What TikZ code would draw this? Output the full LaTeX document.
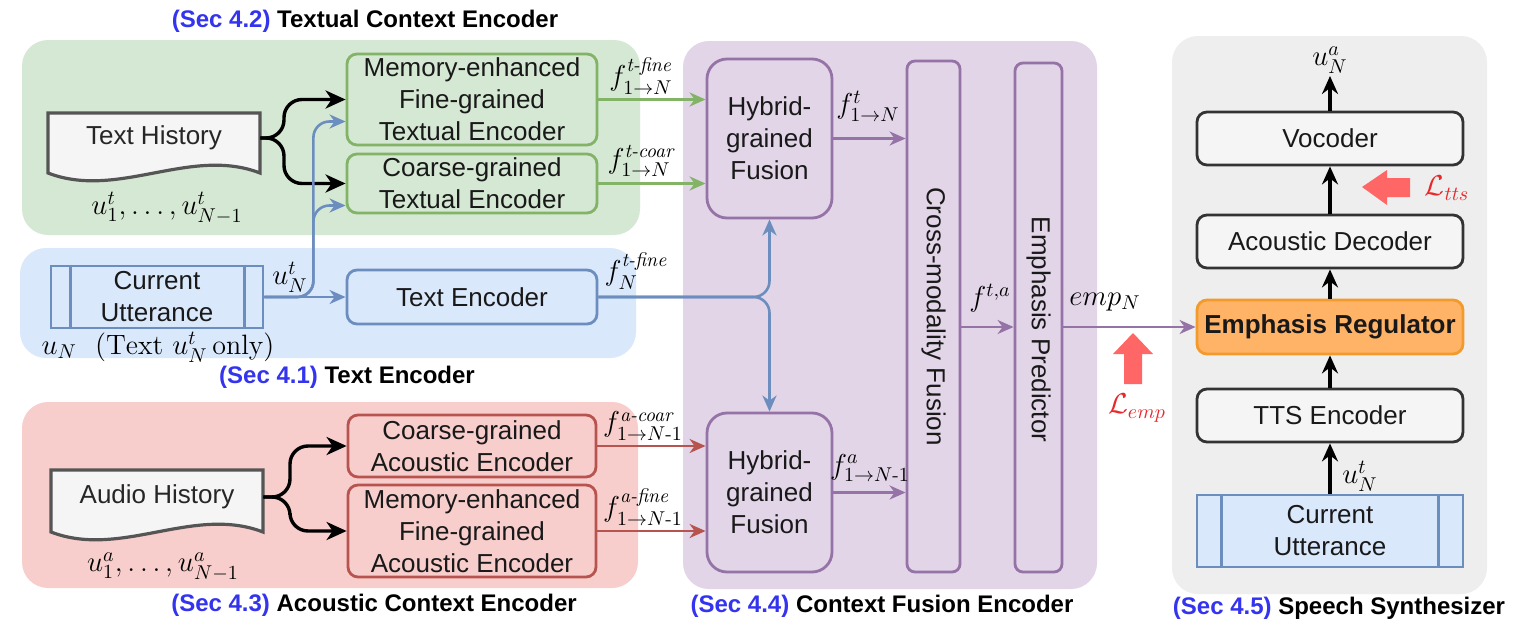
\documentclass[tikz,border=0pt]{standalone}
\usepackage{amsmath}
\usepackage{fontspec}
\newfontfamily\lsans{Liberation Sans}
\usetikzlibrary{arrows.meta}
\definecolor{gfill}{HTML}{D5E8D4}
\definecolor{gline}{HTML}{82B366}
\definecolor{bfill}{HTML}{DAE8FC}
\definecolor{bline}{HTML}{6C8EBF}
\definecolor{rfill}{HTML}{F8CECC}
\definecolor{rline}{HTML}{B85450}
\definecolor{pfill}{HTML}{E1D5E7}
\definecolor{pline}{HTML}{9673A6}
\definecolor{kfill}{HTML}{F5F5F5}
\definecolor{kline}{HTML}{333333}
\definecolor{greybg}{HTML}{EEEEEE}
\definecolor{ofill}{HTML}{FFB366}
\definecolor{oline}{HTML}{F29B2C}
\definecolor{lossarrow}{HTML}{FF6666}
\definecolor{lossred}{HTML}{E8282B}
\definecolor{secblue}{HTML}{3333F0}
\definecolor{docline}{HTML}{555555}
\begin{document}
\begin{tikzpicture}[x=0.5pt,y=-0.5pt,
 corners/.style args={#1,#2,#3,#4}{minimum width={(#3-#1)*0.5pt}, minimum height={(#4-#2)*0.5pt}, at={({(#1+#3)/2},{(#2+#4)/2})}},
 region/.style={inner sep=0pt, draw=none, rounded corners=13pt},
 bx/.style={inner sep=0pt, line width=1.4pt, rounded corners=5pt, align=center, text=black!90, font=\lsans\fontsize{13}{16}\selectfont},
 gbx/.style={bx, draw=gline, fill=gfill},
 bbx/.style={bx, draw=bline, fill=bfill},
 rbx/.style={bx, draw=rline, fill=rfill},
 pbx/.style={bx, draw=pline, fill=pfill},
 kbx/.style={bx, draw=kline, fill=kfill},
 obx/.style={bx, draw=oline, fill=ofill, font=\lsans\bfseries\fontsize{13}{16}\selectfont},
 docbx/.style={inner sep=0pt, align=center, text=black!85, font=\lsans\fontsize{13}{16}\selectfont},
 tip/.style={-{Stealth[length=8pt,width=7pt,inset=2.5pt]}},
 garr/.style={tip, line width=1.3pt, draw=gline},
 barr/.style={tip, line width=1.3pt, draw=bline, rounded corners=8pt},
 rarr/.style={tip, line width=1.3pt, draw=rline},
 parr/.style={tip, line width=1.3pt, draw=pline},
 karr/.style={line width=1.7pt, draw=black, rounded corners=9pt, -{Stealth[length=10pt,width=9pt,inset=3pt]}},
 varr/.style={line width=1.6pt, draw=black, -{Stealth[length=9pt,width=8pt,inset=3pt]}},
 mlab/.style={inner sep=0pt, font=\fontsize{14}{16}\selectfont},
 sec/.style={inner sep=0pt, font=\lsans\bfseries\fontsize{12}{14}\selectfont},
]
\useasboundingbox (0,0) rectangle (1517,632);
\fill[white] (0,0) rectangle (1517,632);

% regions
\node[region, fill=gfill, corners={22,40,640,235}] (greg) {};
\node[region, fill=bfill, corners={20,248,636,358}] (breg) {};
\node[region, fill=rfill, corners={22,402,638,588}] (rreg) {};
\node[region, fill=pfill, corners={683,41,1097,589}] (preg) {};
\node[region, fill=greybg, corners={1172,36,1487,594}] (kreg) {};

% section labels
\node[sec] (s42) at (365,21) {\textcolor{secblue}{(Sec 4.2)} Textual Context Encoder};
\node[sec] (s41) at (347,377) {\textcolor{secblue}{(Sec 4.1)} Text Encoder};
\node[sec] (s43) at (374,605) {\textcolor{secblue}{(Sec 4.3)} Acoustic Context Encoder};
\node[sec] (s44) at (882,606) {\textcolor{secblue}{(Sec 4.4)} Context Fusion Encoder};
\node[sec] (s45) at (1339,608) {\textcolor{secblue}{(Sec 4.5)} Speech Synthesizer};

% text history document
\draw[line width=1.6pt, draw=docline, fill=kfill] (48,113) -- (260,113) -- (260,173) .. controls (190,146) and (118,200) .. (48,173) -- cycle;
\node[docbx, corners={48,113,260,163}] (th) {Text History};
% audio history document
\draw[line width=1.6pt, draw=docline, fill=kfill] (51,470) -- (263,470) -- (263,532) .. controls (193,505) and (121,559) .. (51,532) -- cycle;
\node[docbx, corners={51,470,263,524}] (ah) {Audio History};

% textual encoders
\node[gbx, corners={347,54,597,145}] (mem) {Memory-enhanced\\Fine-grained\\Textual Encoder};
\node[gbx, corners={347,154,597,213}] (coa) {Coarse-grained\\Textual Encoder};
% current utterance + text encoder
\node[bbx, rounded corners=0pt, corners={51,266,263,328}] (cu) {Current\\Utterance};
\draw[line width=1.4pt, draw=bline] ([xshift=10.5pt]cu.north west) -- ([xshift=10.5pt]cu.south west);
\draw[line width=1.4pt, draw=bline] ([xshift=-10pt]cu.north east) -- ([xshift=-10pt]cu.south east);
\node[bbx, corners={347,270,597,324}] (tenc) {Text Encoder};
% acoustic encoders
\node[rbx, corners={348,415,596,477}] (cac) {Coarse-grained\\Acoustic Encoder};
\node[rbx, corners={348,485,596,577}] (mac) {Memory-enhanced\\Fine-grained\\Acoustic Encoder};

% fusion
\node[pbx, rounded corners=10pt, corners={707,59,832,218}] (hyb1) {Hybrid-\\grained\\Fusion};
\node[pbx, rounded corners=10pt, corners={707,413,832,572}] (hyb2) {Hybrid-\\grained\\Fusion};
\node[pbx, rounded corners=4pt, corners={907,61,960,572}] (cross) {\rotatebox{-90}{Cross-modality Fusion}};
\node[pbx, rounded corners=4pt, corners={1015,63,1062,572}] (ep) {\rotatebox{-90}{\hspace*{12pt}Emphasis Predictor}};

% synthesizer
\node[kbx, corners={1197,112,1463,165}] (voc) {Vocoder};
\node[kbx, corners={1197,215,1463,268}] (ad) {Acoustic Decoder};
\node[obx, corners={1197,300,1463,354}] (er) {Emphasis Regulator};
\node[kbx, corners={1197,389,1463,442}] (tts) {TTS Encoder};
\node[bbx, rounded corners=0pt, corners={1197,495,1463,567}] (cu2) {Current\\Utterance};
\draw[line width=1.4pt, draw=bline] ([xshift=13pt]cu2.north west) -- ([xshift=13pt]cu2.south west);
\draw[line width=1.4pt, draw=bline] ([xshift=-13pt]cu2.north east) -- ([xshift=-13pt]cu2.south east);
\coordinate (out) at (1330,76);

% connectors: left
\draw[karr] (th.east) -- (284,138) |- (mem.west);
\draw[karr] (th.east) -- (284,138) |- (coa.west);
\draw[karr] (ah.east) -- (290,497) |- (cac.west);
\draw[karr] (ah.east) -- (290,497) |- (mac.west);
\draw[barr] (cu.east) -- (tenc.west);
\draw[barr] (cu.east) -- ++(49,0) |- ([yshift=-11pt]mem.west);
\draw[barr] (cu.east) -- ++(49,0) |- ([yshift=-11pt]coa.west);
\draw[garr] (mem.east) -- (mem.east -| hyb1.west);
\draw[garr] (coa.east) -- (coa.east -| hyb1.west);
\draw[rarr] (cac.east) -- (cac.east -| hyb2.west);
\draw[rarr] (mac.east) -- (mac.east -| hyb2.west);
\draw[barr] (tenc.east) -| (hyb1.south);
\draw[barr] (tenc.east) -| (hyb2.north);
% fusion connectors
\draw[parr] (hyb1.east) -- (hyb1.east -| cross.west);
\draw[parr] (hyb2.east) -- (hyb2.east -| cross.west);
\draw[parr] (cross.east |- er.west) -- (ep.west |- er.west);
\draw[parr] (ep.east |- er.west) -- (er.west);
% synthesizer connectors
\draw[varr] (cu2.north) -- (tts.south);
\draw[varr] (tts.north) -- (er.south);
\draw[varr] (er.north) -- (ad.south);
\draw[varr] (ad.north) -- (voc.south);
\draw[varr] (voc.north) -- (out);

% loss arrows
\fill[lossarrow] (1133,333) -- (1153,354) -- (1142,354) -- (1142,384) -- (1124,384) -- (1124,354) -- (1113,354) -- cycle;
\fill[lossarrow] (1362,187) -- (1387,170) -- (1387,178) -- (1410,178) -- (1410,197) -- (1387,197) -- (1387,205) -- cycle;

% math labels
\node[mlab] (l1) at (167,208) {$u^t_1,\ldots,u^t_{N-1}$};
\node[mlab] (l2) at (158,347) {$u_N\ \ (\mathrm{Text}\ u^t_N\,\mathrm{only})$};
\node[mlab] (l3) at (290,277) {$u^t_N$};
\node[mlab] (l4) at (163,567) {$u^a_1,\ldots,u^a_{N-1}$};
\node[mlab] (l5) at (641,76) {$f^{\textit{t-fine}}_{1\rightarrow N}$};
\node[mlab] (l6) at (641,161) {$f^{\textit{t-coar}}_{1\rightarrow N}$};
\node[mlab] (l7) at (636,271) {$f^{\textit{t-fine}}_{N}$};
\node[mlab] (l8) at (643,426) {$f^{\textit{a-coar}}_{1\rightarrow N\text{-}1}$};
\node[mlab] (l9) at (643,507) {$f^{\textit{a-fine}}_{1\rightarrow N\text{-}1}$};
\node[mlab] (l10) at (868,106) {$f^{t}_{1\rightarrow N}$};
\node[mlab] (l11) at (870,468) {$f^{a}_{1\rightarrow N\text{-}1}$};
\node[mlab] (l12) at (990,298) {$f^{t,a}$};
\node[mlab] (l13) at (1105,302) {$emp_N$};
\node[mlab, text=lossred] (l14) at (1137,408) {$\mathcal{L}_{emp}$};
\node[mlab, text=lossred] (l15) at (1447,188) {$\mathcal{L}_{tts}$};
\node[mlab] (l16) at (1330,60) {$u^a_N$};
\node[mlab] (l17) at (1360,476) {$u^t_N$};
\end{tikzpicture}
\end{document}
